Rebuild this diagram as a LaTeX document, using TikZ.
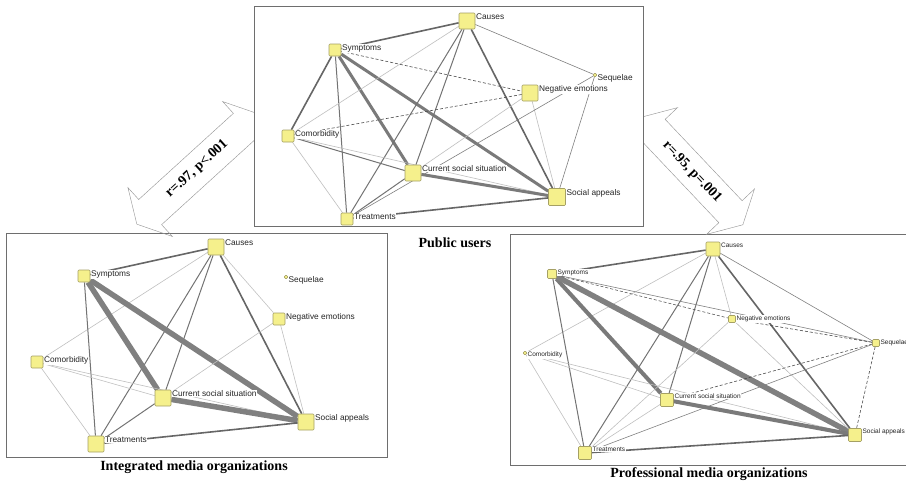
\documentclass[tikz,border=0pt]{standalone}
\usepackage{fontspec}
\setmainfont{Liberation Serif}
\setsansfont{Liberation Sans}

\definecolor{nodefill}{RGB}{245,240,140}
\definecolor{nodeline}{RGB}{165,160,100}
\definecolor{boxline}{RGB}{110,110,110}

\pgfdeclarelayer{bg}
\pgfdeclarelayer{edges}
\pgfsetlayers{bg,edges,main}

\begin{document}
\begin{tikzpicture}[x=1pt, y=-1pt,
          sq/.style ={draw=nodeline, fill=nodefill, rounded corners=1pt, minimum size=#1, inner sep=0pt, line width=0.6},
          lbl/.style ={font=\sffamily\fontsize{8.3}{8.3}\selectfont, text=black!85, fill=white, inner sep=0.6pt, anchor=north west},
          lbls/.style ={lbl, font=\sffamily\fontsize{6.5}{6.5}\selectfont},
          ttl/.style ={font=\bfseries\fontsize{14}{14}\selectfont},
          frame/.style ={draw=boxline, line width=0.8},
          bigarrow/.style ={draw=black!40, line width=0.45, line join=miter},
          e5/.style ={line width=5.5, draw=black!50},
          e4/.style ={line width=4, draw=black!52},
          e3/.style ={line width=3, draw=black!52},
          e2/.style ={line width=1.6, draw=black!60},
          e1/.style ={line width=1, draw=black!55},
          et/.style ={line width=0.6, draw=black!50},
          el/.style ={line width=0.6, draw=black!25},
          ed/.style ={line width=0.6, draw=black!70, densely dashed}
          ]
\useasboundingbox (0,0) rectangle (906,482);

% frames and arrows
\begin{pgfonlayer}{bg}
\draw[frame] (6,233) rectangle (387,457);
\draw[frame] (510,234) rectangle (930,465);
\begin{scope}[shift={(197.5,169)}, rotate=42.3]
\draw[bigarrow] (-82,0) -- (-64,33) -- (-64,17) -- (64,17) -- (64,33) -- (82,0) -- (64,-33) -- (64,-17) -- (-64,-17) -- (-64,-33) -- cycle;
\end{scope}
\begin{scope}[shift={(692,171)}, rotate=-46.6]
\draw[bigarrow] (-74,0) -- (-56,33) -- (-56,16) -- (56,16) -- (56,33) -- (74,0) -- (56,-33) -- (56,-16) -- (-56,-16) -- (-56,-33) -- cycle;
\end{scope}
\draw[frame, fill=white] (254,6) rectangle (643,226);
\end{pgfonlayer}

% public users
\foreach \n/\x/\y/\s/\t in {cau/467/21/16/Causes, sym/335/50/12/Symptoms, seq/595/75/3/Sequelae,
    neg/530/93/16/Negative emotions, com/288/136/12/Comorbidity, css/413/173/16/Current social situation,
    soc/557/197/17/Social appeals, tre/347/219/12/Treatments}{
\node[sq=\s, label={[lbl]north east:\t}] (pu-\n) at (\x,\y) {};
}
% integrated media organizations
\foreach \n/\x/\y/\s/\t in {cau/216/247/16/Causes, sym/84/276/12/Symptoms, seq/286/277/3/Sequelae,
    neg/279/319/12/Negative emotions, com/37/362/12/Comorbidity, css/163/398/16/Current social situation,
    soc/306/422/16/Social appeals, tre/96/444/16/Treatments}{
\node[sq=\s, label={[lbl]north east:\t}] (im-\n) at (\x,\y) {};
}
% professional media organizations
\foreach \n/\x/\y/\s/\t in {cau/713/249/14/Causes, sym/552/274/9/Symptoms, seq/876/343/7/Sequelae,
    neg/732/319/7/Negative emotions, com/525/353/3/Comorbidity, css/667/400/13/Current social situation,
    soc/855/435/13/Social appeals, tre/585/453/13/Treatments}{
\node[sq=\s, label={[lbls]north east:\t}] (pm-\n) at (\x,\y) {};
}

\begin{pgfonlayer}{edges}
\foreach \a/\b/\st in {sym/cau/e2, sym/com/e2, sym/tre/e1, sym/css/e3, sym/soc/e3, sym/neg/ed,
    cau/com/el, cau/tre/e1, cau/css/e1, cau/soc/e2, cau/seq/et, neg/soc/el, neg/com/ed, neg/css/el,
    seq/tre/et, seq/soc/et, com/css/e1, com/soc/el, com/tre/el, css/soc/e3, css/tre/e1, tre/soc/e2}{
\draw[\st] (pu-\a) -- (pu-\b);
}
\foreach \a/\b/\st in {sym/cau/e2, cau/com/el, cau/tre/e1, cau/css/e1, cau/soc/e2, cau/neg/el,
    sym/css/e5, sym/soc/e5, sym/tre/e1, com/css/el, com/soc/el, com/tre/el, css/soc/e5,
    css/neg/el, css/tre/e1, tre/soc/e2, neg/soc/el}{
\draw[\st] (im-\a) -- (im-\b);
}
\foreach \a/\b/\st in {sym/cau/e2, cau/com/el, cau/tre/e1, cau/css/e1, cau/neg/el, cau/soc/e2, cau/seq/et,
    sym/css/e4, sym/soc/e5, sym/tre/e1, sym/neg/ed, sym/seq/et, neg/seq/ed, neg/tre/el, neg/soc/el,
    com/tre/el, com/css/el, com/soc/el, seq/css/ed, seq/tre/et, seq/soc/ed, css/soc/e4, css/tre/el, tre/soc/e2}{
\draw[\st] (pm-\a) -- (pm-\b);
}
\end{pgfonlayer}

% titles
\node[ttl] (t-pu) at (455,243) {Public users};
\node[ttl] (t-im) at (194,467) {Integrated media organizations};
\node[ttl] (t-pm) at (709,474) {Professional media organizations};
\node[ttl, rotate=42.3] (r-im) at (197,169) {r=.97, p<.001};
\node[ttl, rotate=-46.6] (r-pm) at (692,172) {r=.95, p=.001};
\end{tikzpicture}
\end{document}
